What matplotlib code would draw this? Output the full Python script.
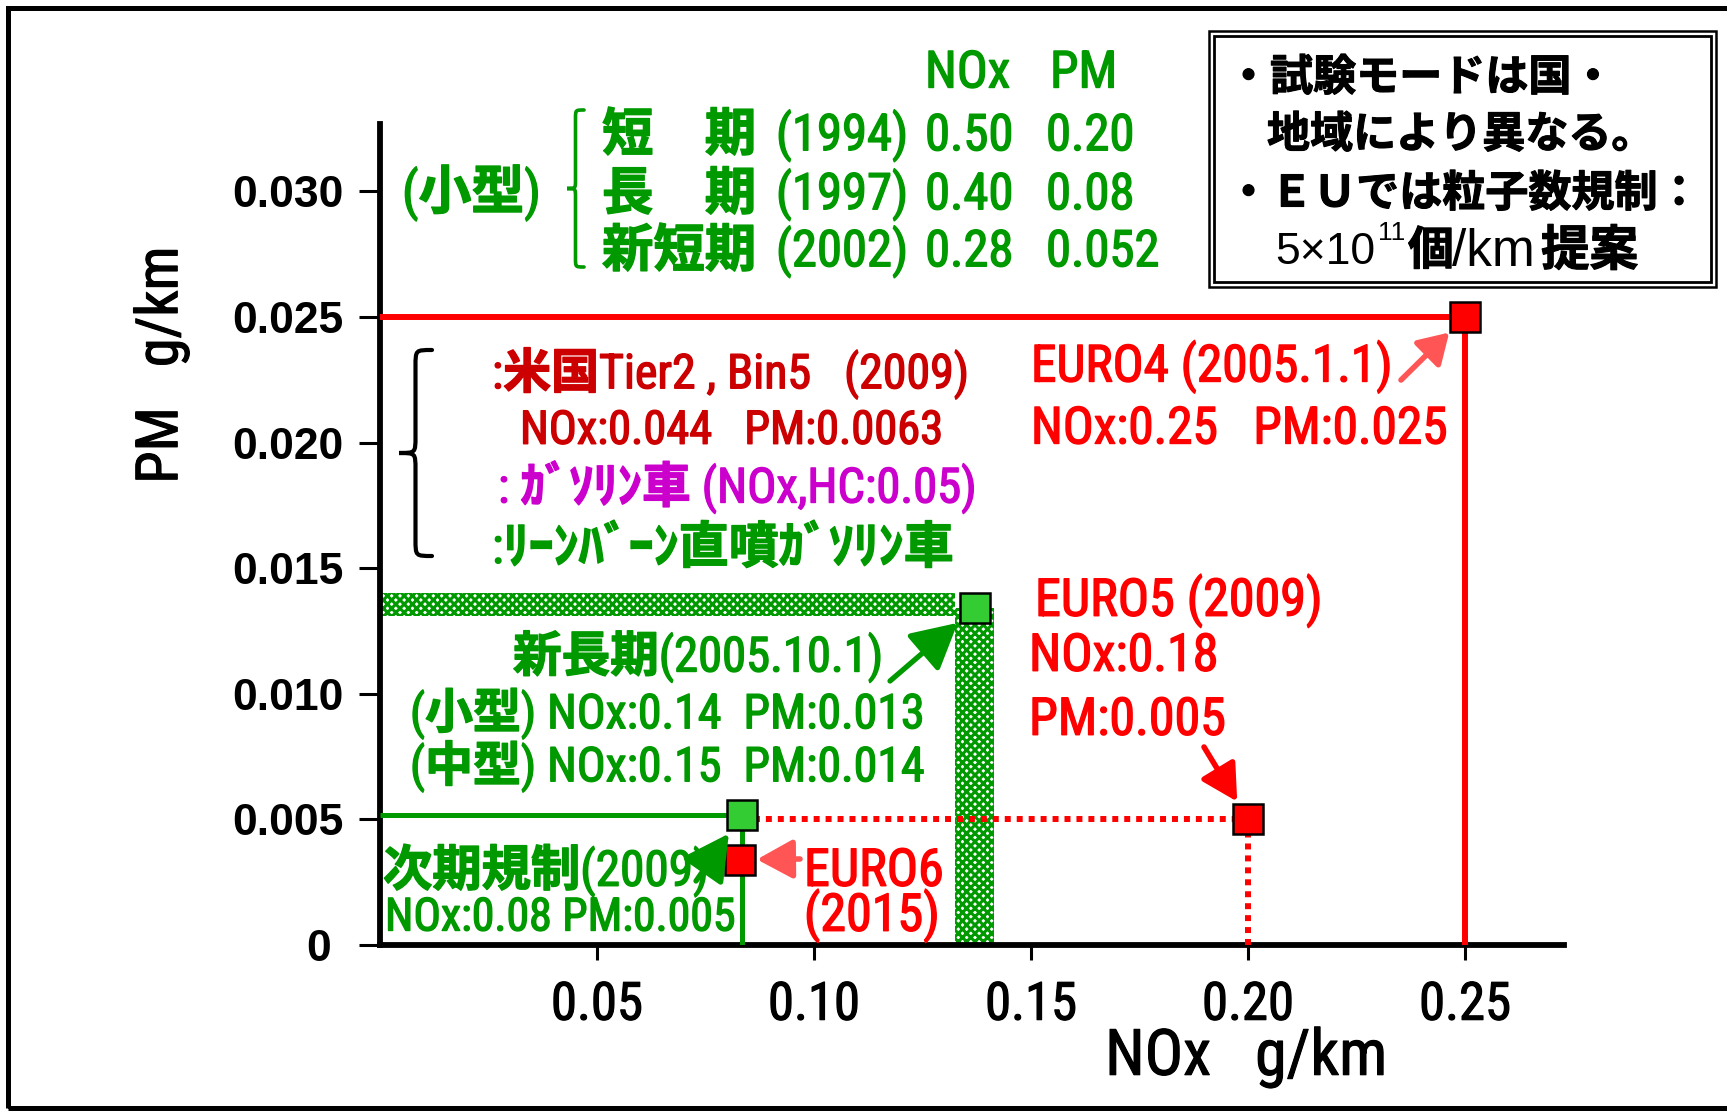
import dataclasses
import matplotlib
matplotlib.use('Agg')
import matplotlib.pyplot as plt
import matplotlib.patheffects as pe
from matplotlib import font_manager as fm
from matplotlib.patches import Rectangle, PathPatch
from matplotlib.path import Path

W, H = 1727, 1111

# ---------------- data ----------------
nox_ticks = [0.05, 0.10, 0.15, 0.20, 0.25]
nox_ticklabels = ['0.05', '0.10', '0.15', '0.20', '0.25']
pm_ticks = [0, 0.005, 0.010, 0.015, 0.020, 0.025, 0.030]
pm_ticklabels = ['0', '0.005', '0.010', '0.015', '0.020', '0.025', '0.030']
nox_lim = [0, 0.2728]
pm_lim = [0, 0.03268]

euro_names = ['EURO4', 'EURO5', 'EURO6']
euro_nox = [0.25, 0.20, 0.083]
euro_pm = [0.025, 0.005, 0.0034]

jp_names = ['新長期', '次期規制']
jp_nox = [0.137, 0.0833]
jp_pm = [0.0134, 0.00516]

band_pm = [0.0131, 0.0140]     # horizontal hatched band (PM range)
band_nox = [0.1325, 0.1415]    # vertical hatched band (NOx range)

old_periods = ['短　期', '長　期', '新短期']
old_years = ['(1994)', '(1997)', '(2002)']
old_nox = ['0.50', '0.40', '0.28']
old_pm = ['0.20', '0.08', '0.052']

box_lines = ['・試験モードは国・', '地域により異なる。', '・ＥＵでは粒子数規制：']

# ---------------- fonts ----------------
def wnum(w):
    if isinstance(w, str):
        return fm.weight_dict.get(w, 400)
    return int(w)

ttf = fm.fontManager.ttflist
names = {f.name for f in ttf}

def make_alias(pred, want_weight, alias):
    cands = [f for f in ttf if pred(f) and f.style == 'normal']
    if not cands:
        return False
    best = min(cands, key=lambda f: abs(wnum(f.weight) - want_weight))
    ttf.append(dataclasses.replace(best, name=alias, weight=400, stretch='normal'))
    return True

cjk_names = ['Noto Sans CJK JP'] if 'Noto Sans CJK JP' in names else \
    [n for n in names if n.startswith('Noto Sans CJK')]
make_alias(lambda f: f.name in cjk_names, 700, 'JPBOLD')

NARROW = 'DejaVu Sans'
for cand in ['Roboto Condensed', 'Archivo Narrow', 'Liberation Sans Narrow',
             'Fira Sans Condensed', 'IBM Plex Sans Condensed', 'Barlow Semi Condensed']:
    if cand in names:
        NARROW = cand
        break
make_alias(lambda f: f.name == NARROW, 400, 'NARROWREG')

MIX = ['NARROWREG', 'JPBOLD', 'DejaVu Sans']
REG = ['Liberation Sans', 'JPBOLD', 'DejaVu Sans']
JPB = ['JPBOLD', 'DejaVu Sans']

# ---------------- figure ----------------
fig = plt.figure(figsize=(W / 100, H / 100), dpi=100)
fig.patch.set_facecolor('white')
ax = fig.add_axes([380 / W, (H - 945) / H, (1564 - 380) / W, (945 - 124) / H])
ax.set_xlim(nox_lim)
ax.set_ylim(pm_lim)
for s in ['top', 'right']:
    ax.spines[s].set_visible(False)
for s in ['left', 'bottom']:
    ax.spines[s].set_linewidth(4.2)
    ax.spines[s].set_capstyle('projecting')

ax.set_xticks(nox_ticks, nox_ticklabels)
ax.set_yticks(pm_ticks, [t + ' ' if t == '0' else t for t in pm_ticklabels])
ax.tick_params(axis='x', length=11, width=2.2, pad=14, labelsize=38)
ax.tick_params(axis='y', length=15, width=2.2, pad=11, labelsize=32)
for lab in ax.get_xticklabels():
    lab.set_family('NARROWREG')
    lab.set_path_effects([pe.withStroke(linewidth=0.8, foreground='black')])
for lab in ax.get_yticklabels():
    lab.set_family('Liberation Sans')
    lab.set_weight('bold')

ax.set_xlabel('NOx   g/km', family='NARROWREG', fontsize=46, va='center', ha='center')
ax.xaxis.set_label_coords((1246 - 380) / 1184, -(1057 - 945) / 821)
ax.set_ylabel('PM   g/km', family='NARROWREG', fontsize=42, va='center', ha='center')
ax.yaxis.set_label_coords((162 - 380) / 1184, (945 - 365) / 821)
ax.xaxis.label.set_path_effects([pe.withStroke(linewidth=0.8, foreground='black')])
ax.yaxis.label.set_path_effects([pe.withStroke(linewidth=0.8, foreground='black')])

red = '#FF0000'
dred = '#CC0000'
green = '#009900'
lgreen = '#33CC33'
salmon = '#FF5555'
magenta = '#CC00CC'

plt.rcParams['hatch.linewidth'] = 2.2

# hatched bands (新長期 small/medium range)
ax.add_patch(Rectangle((0, band_pm[0]), band_nox[0], band_pm[1] - band_pm[0],
                       facecolor='white', edgecolor=green, hatch='xxxx', lw=0, zorder=2))
ax.add_patch(Rectangle((band_nox[0], 0), band_nox[1] - band_nox[0], jp_pm[0],
                       facecolor='white', edgecolor=green, hatch='xxxx', lw=0, zorder=2))

# EURO4 limits (solid)
ax.plot([0, euro_nox[0]], [euro_pm[0], euro_pm[0]], color=red, lw=4.3,
        solid_capstyle='butt', zorder=3)
ax.plot([euro_nox[0], euro_nox[0]], [0, euro_pm[0]], color=red, lw=4.3,
        solid_capstyle='butt', zorder=3)
# EURO5 limits (dotted)
ax.plot([jp_nox[1], euro_nox[1]], [euro_pm[1], euro_pm[1]], color=red, lw=4.3,
        linestyle=(0, (1, 1)), dash_capstyle='butt', zorder=3)
ax.plot([euro_nox[1], euro_nox[1]], [0, euro_pm[1]], color=red, lw=4.3,
        linestyle=(0, (1, 1)), dash_capstyle='butt', zorder=3)
# 次期規制 limits (green)
ax.plot([0, jp_nox[1]], [jp_pm[1], jp_pm[1]], color=green, lw=3.6,
        solid_capstyle='butt', zorder=3)
ax.plot([jp_nox[1], jp_nox[1]], [0, jp_pm[1]], color=green, lw=3.6,
        solid_capstyle='butt', zorder=3)

# markers
ax.plot(euro_nox, euro_pm, 's', ms=22, mfc=red, mec='black', mew=1.8,
        zorder=6, clip_on=False)
ax.plot(jp_nox, jp_pm, 's', ms=22, mfc=lgreen, mec='black', mew=1.8,
        zorder=6, clip_on=False)


# ---------------- helpers ----------------
def T(px, cy, s, size, color, fam=MIX, weight='normal', ha='left', stroke=1.0):
    base = cy + 0.36 * size * 100 / 72
    t = fig.text(px / W, 1 - base / H, s, fontsize=size, color=color, family=fam,
                 weight=weight, ha=ha, va='baseline')
    if stroke:
        t.set_path_effects([pe.withStroke(linewidth=stroke, foreground=color)])
    return t


def arrow(xd, yd, tail, color, lw, shrink, hl, hw):
    ax.annotate('', xy=(xd, yd), xycoords='data',
                xytext=(tail[0], H - tail[1]), textcoords='figure pixels',
                arrowprops=dict(arrowstyle='-|>,head_length=%g,head_width=%g' % (hl, hw),
                                color=color, lw=lw, shrinkA=0, shrinkB=shrink,
                                mutation_scale=20),
                annotation_clip=False, zorder=7)


def brace(xl, xr, yt, yb, color, lw):
    xm = (xl + xr) / 2
    ym = (yt + yb) / 2
    r = (xr - xl) / 2
    pts = [(xr, yt), (xm, yt), (xm, yt), (xm, yt + r),
           (xm, ym - r),
           (xm, ym), (xm, ym), (xl, ym),
           (xm, ym), (xm, ym), (xm, ym + r),
           (xm, yb - r),
           (xm, yb), (xm, yb), (xr, yb)]
    codes = [Path.MOVETO, Path.CURVE4, Path.CURVE4, Path.CURVE4,
             Path.LINETO,
             Path.CURVE4, Path.CURVE4, Path.CURVE4,
             Path.CURVE4, Path.CURVE4, Path.CURVE4,
             Path.LINETO,
             Path.CURVE4, Path.CURVE4, Path.CURVE4]
    verts = [(x / W, 1 - y / H) for x, y in pts]
    fig.add_artist(PathPatch(Path(verts, codes), transform=fig.transFigure,
                             fill=False, edgecolor=color, lw=lw, capstyle='round'))


def frect(x0, y0, x1, y1, lw, color='black'):
    fig.add_artist(Rectangle((x0 / W, 1 - y1 / H), (x1 - x0) / W, (y1 - y0) / H,
                             transform=fig.transFigure, fill=False,
                             edgecolor=color, lw=lw))


# ---------------- arrows ----------------
arrow(euro_nox[0], euro_pm[0], (1401, 380), salmon, 4.0, 16, 0.9, 0.55)
arrow(euro_nox[1], euro_pm[1], (1204, 747), red, 4.0, 15, 1.1, 0.6)
arrow(euro_nox[2], euro_pm[2], (800, 859), salmon, 4.0, 12, 1.1, 0.6)
arrow(jp_nox[0], jp_pm[0], (890, 681), green, 3.8, 16, 1.4, 0.75)
arrow(jp_nox[1], jp_pm[1], (696, 881), green, 3.8, 16, 1.4, 0.75)

# ---------------- text: old regulations table ----------------
T(925, 69, 'NOx', 37, green)
T(1050, 69, 'PM', 37, green)
rows_y = [132, 191, 248]
for i, cy in enumerate(rows_y):
    T(602, cy, old_periods[i], 37, green)
    T(776, cy, old_years[i], 36.5, green)
    T(925, cy, old_nox[i], 36.5, green)
    T(1046, cy, old_pm[i], 36.5, green)
T(402, 190, '(小型)', 38, green)
brace(567, 584, 110, 267, green, 2.6)

# ---------------- text: US / legend ----------------
brace(399, 432, 350, 556, 'black', 3.0)
T(492, 371, ':米国Tier2 , Bin5   (2009)', 34.5, dred)
T(520, 427, 'NOx:0.044   PM:0.0063', 33.5, dred)
T(498, 485, ': ｶﾞｿﾘﾝ車 (NOx,HC:0.05)', 35, magenta)
T(492, 545, ':ﾘｰﾝﾊﾞｰﾝ直噴ｶﾞｿﾘﾝ車', 36, green)

# ---------------- text: EURO ----------------
T(1031, 363, euro_names[0] + ' (2005.1.1)', 37, red)
T(1031, 425, 'NOx:0.25   PM:0.025', 37, red)
T(1035, 597, euro_names[1] + ' (2009)', 37.5, red)
T(1029, 652, 'NOx:0.18', 37.5, red)
T(1029, 716, 'PM:0.005', 37.5, red)
T(804, 867, euro_names[2], 37.5, red)
T(804, 912, '(2015)', 37.5, red)

# ---------------- text: Japan ----------------
T(513, 654, jp_names[0] + '(2005.10.1)', 35, green)
T(410, 711, '(小型) NOx:0.14  PM:0.013', 34.5, green)
T(410, 764, '(中型) NOx:0.15  PM:0.014', 34.5, green)
T(383, 868, jp_names[1] + '(2009)', 35.5, green)
T(385, 914, 'NOx:0.08 PM:0.005', 33, green)

# ---------------- note box ----------------
frect(1209, 31, 1716, 287, 1.8)
frect(1214, 36, 1711, 282, 2.0)
T(1227, 75, box_lines[0], 31, 'black', fam=JPB, stroke=0.8)
T(1267, 132, box_lines[1], 31, 'black', fam=JPB, stroke=0.8)
T(1227, 191, box_lines[2], 31, 'black', fam=JPB, stroke=0.8)
T(1275, 248, '5×10', 32, 'black', fam=REG, stroke=0)
T(1378, 230, '11', 19, 'black', fam=REG, stroke=0)
T(1408, 248, '個', 33, 'black', fam=JPB, stroke=0.8)
T(1452, 248, '/km', 37, 'black', fam=REG, stroke=0)
T(1541, 248, '提案', 35, 'black', fam=JPB, stroke=0.8)

# outer frame
frect(8, 8, 1760, 1108, 3.6)

fig.savefig('out.png', dpi=100, facecolor='white')
